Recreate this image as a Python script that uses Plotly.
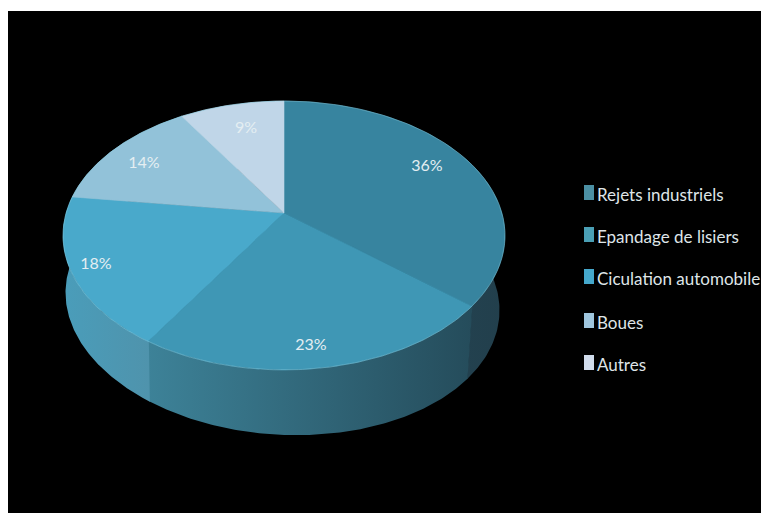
import numpy as np
import plotly.graph_objects as go

# Chart data
categories = ["Rejets industriels", "Epandage de lisiers", "Ciculation automobile", "Boues", "Autres"]
shares = [36, 23, 18, 14, 9]

# Slice colours: top face, then side gradient (left to right)
top_colors = ["#37849f", "#3f97b5", "#49a9cb", "#92c2d9", "#c0d6e8"]
side_colors = [("#264b5c", "#223f4c"), ("#3d8298", "#254c5b"), ("#4a9dba", "#4f93ac"),
               ("#4a9dba", "#4a9dba"), ("#4a9dba", "#4a9dba")]
swatch_colors = ["#4b8fa3", "#4a9fb5", "#45a8cc", "#9fc6de", "#d0dcec"]

# Percentage label anchors (pixels) and legend layout
label_x = [427, 311, 96, 144, 246]
label_y = [167, 346, 265, 164, 129]
legend_y = [197, 239, 281, 325, 367]

# Perspective model of the disc
APEX_X, APEX_Y = 284.0, 213.0
RADIUS_X, RADIUS_Y = 217.9, 130.7
TILT = 0.167
THICK_SHIFT_X = -1.5
THICK_SHIFT_Y = 66.0
THICK_SCALE_X = 217 / 221
THICK_SCALE_Y = 133 / 134
THICK_SHEAR = 0.04
TOP_CENTRE_Y = 235.0


def rim(theta):
    """Project clockwise-from-top angles onto the top rim."""
    depth = -np.cos(theta)
    denom = 1 - TILT * depth
    return APEX_X + RADIUS_X * np.sin(theta) / denom, APEX_Y + RADIUS_Y * depth / denom


def lower_rim(theta):
    x, y = rim(theta)
    return (APEX_X + THICK_SHIFT_X + (x - APEX_X) * THICK_SCALE_X,
            TOP_CENTRE_Y + THICK_SHIFT_Y + (y - TOP_CENTRE_Y) * THICK_SCALE_Y + (x - APEX_X) * THICK_SHEAR)


edges = np.cumsum([0] + shares) / sum(shares) * 2 * np.pi
fig = go.Figure()

# Side wall of the disc, one panel per slice; panels overlap slightly to hide seams
for i in range(len(shares)):
    theta = np.linspace(edges[i] - 0.004, edges[i + 1], 120)
    xt, yt = rim(theta)
    xb, yb = lower_rim(theta)
    fig.add_trace(go.Scatter(
        x=np.r_[xt, xb[::-1]], y=np.r_[yt, yb[::-1]], mode="lines", fill="toself",
        line=dict(width=0),
        fillgradient=dict(type="horizontal", colorscale=[[0, side_colors[i][0]], [1, side_colors[i][1]]]),
        hoverinfo="skip", showlegend=False))

# Top face wedges
for i in range(len(shares)):
    theta = np.linspace(edges[i], edges[i + 1], 120)
    xt, yt = rim(theta)
    fig.add_trace(go.Scatter(
        x=np.r_[APEX_X, xt, APEX_X], y=np.r_[APEX_Y, yt, APEX_Y], mode="lines", fill="toself",
        fillcolor=top_colors[i], line=dict(width=0.6, color=top_colors[i]), name=categories[i],
        hoverinfo="skip", showlegend=False))

# Thin highlight along the rim
theta = np.linspace(0, 2 * np.pi, 400)
xt, yt = rim(theta)
fig.add_trace(go.Scatter(x=xt, y=yt, mode="lines", line=dict(color="rgba(150,215,232,0.4)", width=1),
                         hoverinfo="skip", showlegend=False))

# Percentage labels
fig.add_trace(go.Scatter(
    x=label_x, y=label_y, mode="text", text=[f"{v}%" for v in shares],
    textfont=dict(family="Lato", size=16, color="#e4eef2"),
    textposition="middle center", hoverinfo="skip", showlegend=False))

# Legend rows
fig.add_trace(go.Scatter(
    x=[597] * len(categories), y=legend_y, mode="text", text=categories,
    textfont=dict(family="Lato", size=17, color="#dfe5e8"),
    textposition="middle right", hoverinfo="skip", showlegend=False, cliponaxis=False))
shapes = [dict(type="rect", xref="x", yref="y", x0=584, x1=594, y0=yi - 12, y1=yi + 3,
               fillcolor=c, line=dict(width=0), layer="above")
          for yi, c in zip(legend_y, swatch_colors)]

fig.update_layout(
    width=761, height=513, margin=dict(l=0, r=0, t=0, b=0),
    paper_bgcolor="white", plot_bgcolor="black", shapes=shapes,
    xaxis=dict(domain=[8 / 761, 1], range=[8, 761], visible=False, fixedrange=True),
    yaxis=dict(domain=[0, 502 / 513], range=[513, 11], visible=False, fixedrange=True),
)
fig.write_html("out.html", config=dict(displayModeBar=False))
